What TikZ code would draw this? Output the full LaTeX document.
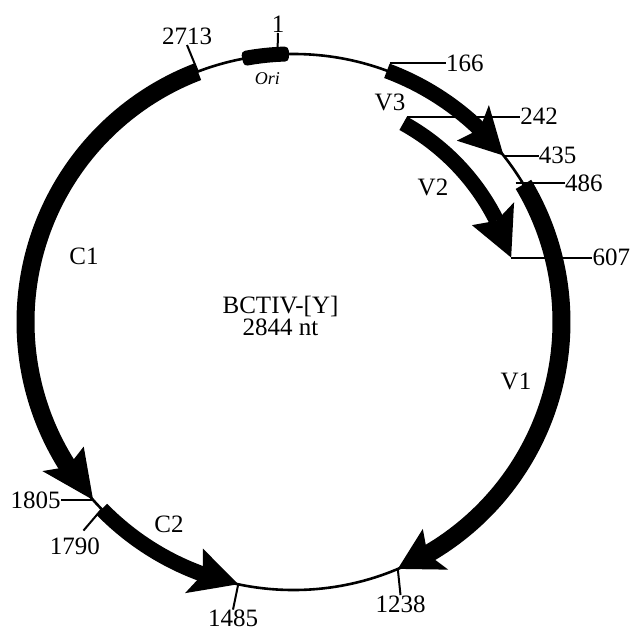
\documentclass[tikz,border=0pt]{standalone}
\usepackage{fontspec}
\setmainfont{Liberation Serif}
\usepackage{tikz}

\tikzset{
  genome/.style={line width=1.3pt},
  bigorf/.style={line width=9pt},
  smallorf/.style={line width=7.7pt},
  orfhead/.style={fill=black},
  tick/.style={line width=1pt},
  posnum/.style={inner sep=0pt, font=\fontsize{12.5}{13}\selectfont},
  orfname/.style={inner sep=0pt, font=\fontsize{12.5}{13}\selectfont}
}

\begin{document}
\begin{tikzpicture}[x=1pt, y=1pt]
        \useasboundingbox (-146.75,-155) rectangle (170.75,161);
        % Genoma circular (2844 nt)
        \draw[genome] (0,0) circle[radius=134];

        % Origen de replicacio
        \fill[rounded corners=2pt] (91:137.75) arc[start angle=91, end angle=101, radius=137.75]
             -- (101:130.25) arc[start angle=101, end angle=91, radius=130.25] -- cycle;
        \node[inner sep=0pt, font=\fontsize{9}{10}\selectfont\itshape] (ori) at (-13,121.5) {Ori};
        \node[posnum, anchor=south] (l1) at (-7.75,144.5) {1};
        \draw[tick] (93.3:137.75) -- (l1.south);

        % V3 (166 -> 435)
        \draw[smallorf] (69.6:134) arc[start angle=69.6, end angle=46, radius=134];
        \fill[orfhead] (38.4:134) -- (48:146) -- (46:134) -- (48:122) -- cycle;
        \node[orfname] (v3) at (48.25,109.75) {V3};

        % V2 (242 -> 607)
        \draw[smallorf] (61.1:113.5) arc[start angle=61.1, end angle=26.5, radius=113.5];
        \fill[orfhead] (16.5:113.5) -- (28.5:125.5) -- (26.5:113.5) -- (28.5:101.5) -- cycle;
        \node[orfname] (v2) at (69.75,67.25) {V2};

        % V1 (486 -> 1238)
        \draw[bigorf] (30.9:134) arc[start angle=30.9, end angle=-60, radius=134];
        \fill[orfhead] (-67.1:134) -- (-58:146) -- (-60:134) -- (-58:122) -- cycle;
        \node[orfname] (v1) at (111.25,-29.5) {V1};

        % C1 (2713 -> 1805)
        \draw[bigorf] (110.9:134) arc[start angle=110.9, end angle=212.7, radius=134];
        \fill[orfhead] (221.6:134) -- (210.7:146) -- (212.7:134) -- (210.7:122) -- cycle;
        \node[orfname] (c1) at (-104.75,33) {C1};

        % C2 (1790 -> 1485)
        \draw[smallorf] (224.3:134) arc[start angle=224.3, end angle=250.2, radius=134];
        \fill[orfhead] (258.1:134) -- (248.2:146) -- (250.2:134) -- (248.2:122) -- cycle;
        \node[orfname] (c2) at (-62.25,-101) {C2};

        % Posicions
        \path (69.6:138) coordinate (p166) ++(28,0) node[posnum, anchor=west] (l166) {166};
        \draw[tick] (p166) -- (l166.west);
        \path (61.1:117.35) coordinate (p242) ++(56.5,0) node[posnum, anchor=west] (l242) {242};
        \draw[tick] (p242) -- (l242.west);
        \path (38.4:134) coordinate (p435) ++(17.5,0) node[posnum, anchor=west] (l435) {435};
        \draw[tick] (p435) -- (l435.west);
        \path (32:131) coordinate (p486) ++(24.5,0) node[posnum, anchor=west] (l486) {486};
        \draw[tick] (p486) -- (l486.west);
        \path (16.5:113.5) coordinate (p607) ++(40.5,0) node[posnum, anchor=west] (l607) {607};
        \draw[tick] (p607) -- (l607.west);
        \path (221.6:134) coordinate (p1805) ++(-16,0) node[posnum, anchor=east] (l1805) {1805};
        \draw[tick] (p1805) -- (l1805.east);

        \node[posnum, anchor=north] (l1238) at (53.5,-136.5) {1238};
        \draw[tick] (-67.1:134) -- (l1238.north);
        \node[posnum, anchor=north] (l1485) at (-30.25,-143.8) {1485};
        \draw[tick] (258.1:134) -- (l1485.north);
        \node[posnum, anchor=north] (l1790) at (-109.25,-107.5) {1790};
        \coordinate (t1790) at (224.8:148);
        \draw[tick] (224.3:134) -- (t1790);
        \node[posnum, anchor=south] (l2713) at (-53.25,138.5) {2713};
        \draw[tick] (110.9:134) -- (l2713.south);

        % Nom del virus
        \node[inner sep=0pt, align=center, font=\fontsize{12.5}{11}\selectfont] (name) at (-6.5,3) {BCTIV-[Y]\\2844 nt};
    \end{tikzpicture}
\end{document}
